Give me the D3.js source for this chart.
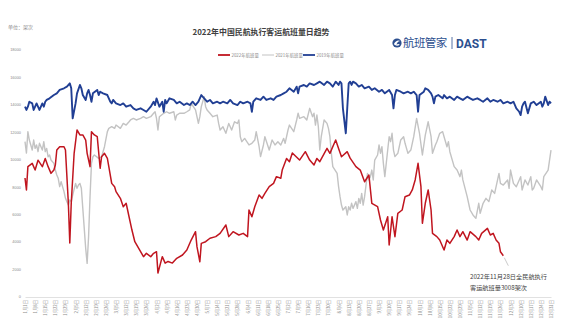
<!DOCTYPE html>
<html><head><meta charset="utf-8">
<script src="https://cdn.jsdelivr.net/npm/d3@7/dist/d3.min.js"></script>
<style>body{margin:0;background:#fff}svg{display:block}</style>
</head><body><svg id="c" width="565" height="332"></svg>
<script>
const chartTitle = "2022年中国民航执行客运航班量日趋势";
const unitLabel = "单位：架次";
const seriesNames = ["2022年航班量", "2021年航班量", "2019年航班量"];
const yTicks = [0, 2000, 4000, 6000, 8000, 10000, 12000, 14000, 16000, 18000];
const annotationLines = ["2022年11月28日全民航执行", "客运航班量3008架次"];
const logoText = "航班管家";
const logoBrand = "DAST";

// [day of year (0 = Jan 1), flights]
const flights2022 = [[0,8670],[1,7800],[2,9500],[5,9740],[7,9250],[9,9970],[12,9500],[14,10100],[16,9500],[18,9010],[20,9250],[21,9620],[22,10710],[24,10950],[27,10950],[28,10710],[30,6830],[31,3930],[32,6830],[34,10470],[36,12170],[38,11810],[40,11810],[42,11440],[43,10470],[45,9500],[46,12050],[48,11810],[50,11680],[52,9380],[53,10220],[55,10470],[57,10100],[58,9500],[60,8280],[62,8040],[63,7680],[66,7190],[68,6580],[70,6830],[72,5850],[74,4880],[76,4030],[78,3670],[80,3300],[82,2940],[84,3180],[87,2940],[89,3180],[91,3300],[92,1750],[95,2940],[97,2470],[99,2590],[102,2470],[105,2820],[109,3060],[112,3420],[115,4150],[118,4760],[119,3670],[121,2570],[122,3910],[125,4030],[128,4280],[132,4400],[135,4640],[139,5250],[141,4400],[144,4760],[148,4520],[151,4640],[154,4400],[155,6340],[157,5850],[159,6580],[162,7430],[164,7190],[166,7550],[169,8040],[172,8280],[174,8770],[177,8650],[178,9250],[181,10100],[183,9860],[185,10490],[190,9980],[194,10590],[197,9980],[200,9620],[202,10100],[204,9860],[209,10830],[211,10470],[215,11440],[217,10830],[219,10220],[223,10590],[225,10120],[229,9500],[232,9250],[235,8400],[238,8890],[240,6820],[244,6580],[246,5610],[248,4880],[251,5850],[252,3790],[254,5850],[256,4390],[258,6100],[261,6340],[263,7310],[266,7430],[268,7800],[270,8530],[272,9740],[274,8040],[275,5370],[277,6830],[279,7800],[281,6340],[282,4640],[285,4400],[287,4150],[290,3420],[292,4150],[294,3910],[297,4400],[299,4880],[301,4400],[303,4760],[306,4150],[308,4760],[312,4400],[314,4150],[316,4640],[320,5000],[322,4520],[324,4640],[326,4150],[328,3910],[329,3300],[331,3008]];

const flights2021 = [[0,11320],[1,10490],[2,12050],[3,11440],[5,10710],[6,11440],[7,10830],[8,11080],[9,10590],[10,11200],[12,10710],[13,11320],[14,10590],[15,10830],[16,10220],[17,10350],[18,9980],[20,9740],[21,9250],[22,8890],[23,8650],[24,8040],[25,8400],[27,7680],[28,7190],[29,6950],[30,6700],[31,7070],[32,6950],[33,7430],[35,8280],[36,7920],[37,8160],[38,8280],[39,7920],[40,6460],[42,3540],[43,2450],[44,4400],[45,7310],[46,9740],[47,10220],[48,10350],[51,10100],[53,10220],[55,10950],[57,12050],[58,12290],[60,12410],[62,12290],[63,12530],[66,12290],[68,12650],[70,12530],[72,12770],[73,12900],[75,13020],[77,12900],[80,13020],[82,13140],[84,13020],[87,13140],[89,13390],[90,13500],[91,13020],[92,12170],[93,13140],[96,13390],[98,13500],[100,13390],[103,13500],[104,12900],[105,13260],[107,13390],[110,13390],[112,13500],[114,13630],[115,14110],[118,13630],[120,12650],[121,13140],[122,13870],[124,14600],[125,13870],[126,13630],[128,13390],[130,13140],[133,13260],[134,12650],[135,12170],[137,12410],[139,11930],[141,12650],[143,12170],[145,12770],[147,12650],[148,12900],[149,11680],[150,11320],[152,11560],[155,11080],[157,11200],[159,11440],[160,12050],[162,10950],[163,10230],[165,11080],[166,11680],[169,10710],[171,11440],[173,11080],[175,11320],[177,11080],[179,11560],[180,11200],[182,12170],[183,12530],[186,12050],[188,12900],[189,13390],[190,13020],[193,13140],[195,12900],[197,13750],[199,13140],[200,13390],[201,12530],[202,13260],[203,12410],[204,10710],[205,11680],[207,12900],[209,12650],[210,12290],[211,11680],[212,10470],[213,9500],[216,9010],[217,8040],[218,7310],[219,6700],[220,6340],[222,6580],[223,5980],[224,6580],[225,6340],[226,6830],[227,6460],[229,6950],[230,6460],[231,7190],[232,6830],[233,7550],[234,6700],[235,7310],[237,9010],[238,8530],[239,8770],[240,9250],[241,8530],[242,9980],[244,10350],[245,11080],[246,10470],[247,10950],[248,9740],[249,8770],[251,10710],[252,11680],[253,11320],[254,11930],[255,10710],[256,10230],[258,10470],[260,11440],[262,11680],[263,11200],[265,10470],[267,10710],[269,11680],[271,13020],[273,11930],[275,10350],[277,11800],[279,12770],[281,11680],[282,10470],[284,11080],[285,11320],[287,11930],[289,12050],[290,11680],[292,10950],[293,11320],[294,10590],[297,9500],[299,9250],[301,8770],[302,9250],[303,8530],[306,7310],[308,6340],[310,5980],[312,5730],[314,6830],[315,6100],[317,6830],[319,7190],[321,6950],[323,7800],[325,7550],[328,9010],[329,8280],[331,8160],[334,8530],[335,7920],[336,9250],[338,8280],[340,8040],[343,8770],[344,7800],[346,8530],[348,8160],[350,8770],[351,7800],[352,7920],[354,8530],[357,8040],[358,7800],[359,8770],[362,9250],[364,10710]];

const flights2019 = [[0,13870],[1,13630],[2,13870],[3,14230],[5,14110],[6,13630],[7,13870],[8,14110],[9,13870],[10,13630],[12,14110],[13,13870],[14,14230],[15,14360],[17,14480],[20,14720],[22,14840],[24,15090],[27,15210],[29,15330],[31,15570],[32,15210],[33,13020],[35,14110],[36,14840],[38,15450],[39,15210],[40,14720],[42,14360],[43,14840],[44,15090],[45,14720],[46,14230],[47,14840],[50,15090],[51,14720],[52,14960],[54,14840],[57,14720],[58,14480],[59,14230],[60,14110],[61,14360],[63,14110],[66,13990],[68,14110],[70,13870],[73,13990],[75,13750],[77,13630],[80,13750],[82,13630],[84,13500],[87,13870],[89,14230],[90,13990],[91,14470],[93,13870],[95,14230],[96,13500],[97,14360],[98,14110],[100,14480],[103,14360],[105,14110],[107,14230],[110,13990],[112,14110],[114,13990],[116,14230],[118,13990],[120,14230],[121,14480],[122,14720],[124,14480],[126,14230],[128,14360],[130,14110],[133,14230],[135,14110],[137,14230],[140,14110],[142,14360],[144,14110],[147,13990],[149,14230],[151,14110],[154,14230],[156,14110],[157,13500],[158,14230],[160,14480],[163,14360],[165,14600],[167,14360],[170,14480],[172,14360],[174,14600],[177,14720],[179,14840],[181,14960],[183,15210],[186,14960],[188,15330],[189,14840],[190,15330],[193,15450],[195,15330],[197,15570],[200,15450],[202,15570],[204,15690],[207,15450],[209,15690],[211,15570],[213,15330],[215,15690],[217,15450],[218,15690],[219,15570],[220,13750],[222,11930],[223,13750],[224,15570],[225,15690],[226,15450],[227,15690],[229,15570],[231,15330],[233,15450],[235,15210],[238,15330],[240,15090],[242,15210],[245,14960],[247,15090],[249,14840],[252,15090],[254,14720],[255,13750],[256,14720],[257,15090],[260,14960],[262,14840],[265,14960],[267,14840],[269,14960],[271,14720],[272,13500],[273,14720],[276,14960],[277,15210],[279,15090],[281,14840],[282,14600],[283,14110],[284,14600],[286,14720],[289,14480],[290,14720],[292,14480],[294,14600],[297,14360],[299,14600],[301,14480],[303,14360],[306,14600],[308,14480],[310,14360],[313,14480],[315,14360],[317,14230],[320,14480],[322,14230],[324,14360],[327,14230],[329,14360],[331,14110],[334,14230],[336,14110],[338,14230],[340,13750],[342,13500],[343,13260],[344,13870],[345,14110],[346,14230],[348,13390],[350,14110],[352,14230],[354,13990],[357,14230],[358,13870],[359,14110],[360,14600],[362,13990],[363,14230],[364,14110]];

const xTickDays = d3.range(0, 365, 7);
const yearStart = new Date(2022, 0, 1);

const svg = d3.select("#c");
const W = 565, H = 332;
const margin = {left: 25, right: 14, top: 50, bottom: 35};
const x = d3.scaleLinear().domain([0, 364]).range([margin.left, W - margin.right]);
const y = d3.scaleLinear().domain([0, 18000]).range([H - margin.bottom, margin.top]);

const cjk = "'Noto Sans CJK SC','Noto Sans',sans-serif";

// title
svg.append("text").attr("x", 261).attr("y", 35).attr("text-anchor", "middle")
  .attr("font-family", cjk).attr("font-size", 7.9).attr("font-weight", "bold").attr("fill", "#404040")
  .text(chartTitle);
svg.append("text").attr("x", 8).attr("y", 28.5)
  .attr("font-family", cjk).attr("font-size", 5).attr("fill", "#8a8a8a").text(unitLabel);

// logo
const logo = svg.append("g").attr("transform", "translate(397,43)");
logo.append("circle").attr("r", 4.6).attr("fill", "#2c4f8f");
logo.append("path").attr("d", "M-3.2,1.2 Q-0.5,-3.8 3.4,-2 Q0.4,-1.6 -0.6,1.6 Q1.2,0.4 2.8,1.4 Q0,4 -3.2,1.2Z").attr("fill", "#fff");
svg.append("text").attr("x", 403).attr("y", 47).attr("font-family", cjk).attr("font-size", 11.5)
  .attr("fill", "#2c4f8f").attr("letter-spacing", -0.6).text(logoText);
svg.append("line").attr("x1", 452).attr("x2", 452).attr("y1", 37).attr("y2", 49).attr("stroke", "#2c4f8f").attr("stroke-width", 0.8);
svg.append("text").attr("x", 456).attr("y", 47.5).attr("font-family", "'Roboto','DejaVu Sans',sans-serif")
  .attr("font-size", 12).attr("font-weight", "bold").attr("fill", "#2c4f8f").text(logoBrand);

// legend
const legendColors = ["#c0151f", "#c3c3c3", "#213f94"];
const legendX = [218, 262, 303];
seriesNames.forEach((n, i) => {
  svg.append("line").attr("x1", legendX[i]).attr("x2", legendX[i] + 12).attr("y1", 55).attr("y2", 55)
    .attr("stroke", legendColors[i]).attr("stroke-width", i === 1 ? 1 : 1.8);
  svg.append("text").attr("x", legendX[i] + 13.5).attr("y", 56.6).attr("font-family", cjk)
    .attr("font-size", 4.4).attr("fill", "#8a8a8a").text(n);
});

// y axis labels
svg.append("g").selectAll("text").data(yTicks).join("text")
  .attr("x", 21).attr("y", d => y(d) + 1.3).attr("text-anchor", "end")
  .attr("font-family", "'Liberation Sans',sans-serif").attr("font-size", 3.9).attr("fill", "#8a8a8a")
  .text(d => d);

// x axis
const xAxis = d3.axisBottom(x).tickValues(xTickDays).tickSize(0)
  .tickFormat(d => { const dt = d3.timeDay.offset(yearStart, d); return (dt.getMonth() + 1) + "月" + dt.getDate() + "日"; });
const gx = svg.append("g").attr("transform", `translate(0,${y(0)})`).call(xAxis);
gx.select(".domain").attr("stroke", "#d9d9d9").attr("stroke-width", 0.8);
gx.selectAll("text").attr("font-family", cjk).attr("font-size", 4.3).attr("fill", "#8a8a8a")
  .attr("text-anchor", "end").attr("dy", "0.35em").attr("transform", "translate(0,3) rotate(-90)")
  .attr("x", 0).attr("y", 0);

// lines
const line = d3.line().x(d => x(d[0])).y(d => y(d[1]));
svg.append("path").datum(flights2021).attr("d", line).attr("fill", "none")
  .attr("stroke", legendColors[1]).attr("stroke-width", 1.4).attr("stroke-linejoin", "round");
svg.append("path").datum(flights2019).attr("d", line).attr("fill", "none")
  .attr("stroke", legendColors[2]).attr("stroke-width", 1.9).attr("stroke-linejoin", "round");
svg.append("path").datum(flights2022).attr("d", line).attr("fill", "none")
  .attr("stroke", legendColors[0]).attr("stroke-width", 1.5).attr("stroke-linejoin", "round");

// annotation
const last = flights2022[flights2022.length - 1];
svg.append("line").attr("x1", x(last[0]) + 1).attr("y1", y(last[1]) + 2)
  .attr("x2", x(last[0]) + 5).attr("y2", y(last[1]) + 10).attr("stroke", "#a6a6a6").attr("stroke-width", 0.6);
annotationLines.forEach((t, i) => {
  svg.append("text").attr("x", 470).attr("y", 279 + i * 10.5).attr("font-family", cjk)
    .attr("font-size", 6.2).attr("fill", "#404040").text(t);
});
</script></body></html>
